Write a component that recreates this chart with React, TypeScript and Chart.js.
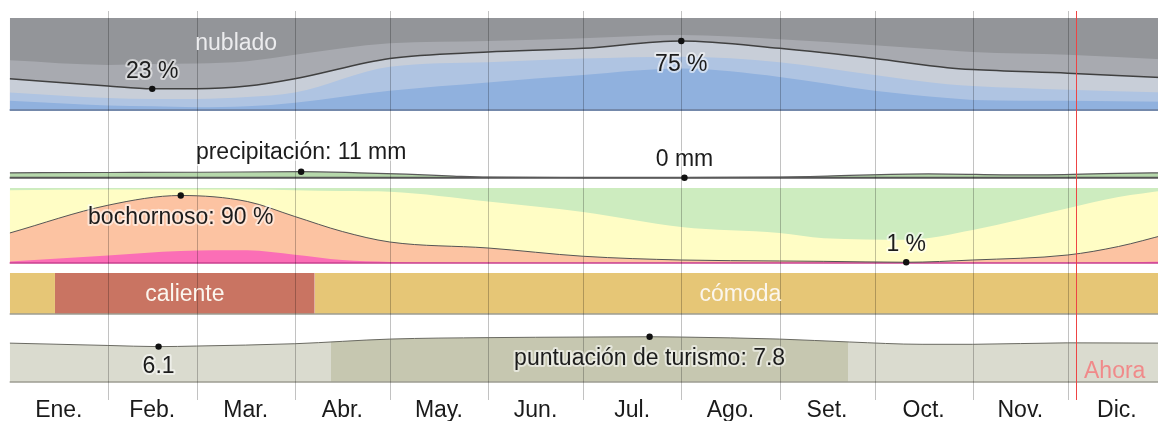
import React, { useEffect, useRef } from 'react';
import { Chart, registerables } from 'chart.js';

Chart.register(...registerables);

// ---------- DATA ----------
const monthNames = ['Ene.', 'Feb.', 'Mar.', 'Abr.', 'May.', 'Jun.', 'Jul.', 'Ago.', 'Set.', 'Oct.', 'Nov.', 'Dic.'];
const monthStarts = [0, 31, 59, 90, 120, 151, 181, 212, 243, 273, 304, 334, 365];

// cloud cover, cumulative % from the bottom (clear -> overcast)
const cloudDays = [0, 31, 45, 59, 75, 90, 120, 151, 181, 212, 243, 273, 296, 304, 334, 365];
const cloudClear = [10, 5, 4, 3, 4, 8, 21, 30, 38, 45, 36, 21, 13, 11, 10, 9];
const cloudMostlyClearOrBetter = [19, 13, 12, 12, 14, 19, 47, 52, 56, 58, 52, 38, 28, 26, 22, 19];
const cloudPartlyCloudyOrBetter = [34, 26, 23, 23, 26, 34, 56, 63, 67, 75, 67, 56, 46, 44, 40, 35];
const cloudMostlyCloudyOrBetter = [54, 49, 50, 50.5, 53, 60, 72.5, 75, 78, 81.5, 77, 70.5, 65, 63, 60, 55];
const cloudTotalDays = [0, 365];
const cloudTotal = [100, 100];
const cloudMarkDays = [45, 212];
const cloudMarkValues = [23, 75];

// precipitation (mm)
const precipDays = [0, 31, 60, 92, 110, 125, 140, 151, 181, 213, 243, 258, 290, 320, 350, 365];
const precipMm = [9, 9.5, 10, 11, 9, 6.5, 3, 1, 0.3, 0, 1, 3, 7, 5, 8, 9];
const precipMarkDays = [92, 213];
const precipMarkValues = [11, 0];

// humidity comfort, cumulative % from the bottom
const humDays = [0, 31, 54, 75, 90, 105, 120, 151, 181, 212, 243, 257, 283, 304, 334, 350, 365];
const humOppressive = [2, 10, 16, 17, 11, 4, 1.5, 0.5, 0.3, 0.3, 0.3, 0.3, 0.3, 0.3, 0.5, 1, 2];
const humMuggyOrWorse = [40, 77, 90, 82, 62, 42, 28, 20, 9, 4, 2.7, 2.2, 1, 4, 10.7, 22, 38];
const humHumidOrWorse = [97, 98, 98, 98, 97, 96, 95, 82, 68, 48, 40, 33, 31, 44, 73, 88, 97];
const humTotalDays = [0, 365];
const humTotal = [100, 100];
const humMarkDays = [54, 283];
const humMarkValues = [90, 1];

// temperature comfort periods
const comfortFrom = [0, 14.3, 96.3];
const comfortTo = [14.3, 96.3, 365];
const comfortCategory = ['cómoda', 'caliente', 'cómoda'];

// tourism score
const tourDays = [0, 31, 47, 59, 90, 120, 151, 181, 202, 212, 243, 265, 288, 304, 334, 365];
const tourScore = [6.7, 6.3, 6.1, 6.2, 6.6, 7.4, 7.65, 7.75, 7.8, 7.75, 7.4, 6.9, 6.5, 6.5, 6.75, 6.7];
const tourBestFrom = 101.3;
const tourBestTo = 264.6;
const tourMarkDays = [47, 202];
const tourMarkValues = [6.1, 7.8];

const todayDay = 336.5;

// ---------- STYLE / LAYOUT ----------
const CANVAS_W = 1170;
const CANVAS_H = 421;
const PLOT_LEFT = 9.68;
const PLOT_RIGHT = 1167.3;
const PLOT_TOP = 11;
const PLOT_BOTTOM = 400;
const FONT = '23px "Liberation Sans", Arial, sans-serif';

const C: Record<string, string> = {
  clear: '#90b1de',
  mostlyClear: '#afc4e2',
  partly: '#c8ced8',
  mostlyCloudy: '#a8aab0',
  overcast: '#939599',
  precip: '#b6d8ab',
  oppressive: '#fb6eb6',
  muggy: '#fcc3a2',
  humid: '#fffdc5',
  comfortable: '#cdecbf',
  'cómoda': '#e6c676',
  caliente: '#c97462',
  tourLight: '#dadbcf',
  tourDark: '#c6c7b0',
};

function bandAxis(vBottom: number, pBottom: number, vTop: number, pTop: number) {
  const s = (vTop - vBottom) / (pBottom - pTop);
  return {
    type: 'linear' as const,
    display: false,
    min: vBottom - (PLOT_BOTTOM - pBottom) * s,
    max: vBottom + (pBottom - PLOT_TOP) * s,
  };
}

const pts = (days: number[], vals: number[]) => days.map((d, i) => ({ x: d, y: vals[i] }));

function area(days: number[], vals: number[], yAxisID: string, color: any, extra: any = {}) {
  return {
    data: pts(days, vals),
    yAxisID,
    backgroundColor: color,
    borderColor: 'rgba(0,0,0,0)',
    borderWidth: 0,
    pointRadius: 0,
    fill: { value: 0 },
    cubicInterpolationMode: 'monotone',
    ...extra,
  };
}

function marker(day: number, value: number, yAxisID: string) {
  return {
    data: [{ x: day, y: value }],
    yAxisID,
    showLine: false,
    pointRadius: 3.2,
    pointBackgroundColor: '#111',
    pointBorderWidth: 0,
    fill: false,
  };
}

function drawLabel(ctx: CanvasRenderingContext2D, text: string, x: number, y: number, color: string, halo?: string, align: CanvasTextAlign = 'center') {
  ctx.save();
  ctx.font = FONT;
  ctx.textAlign = align;
  ctx.textBaseline = 'alphabetic';
  if (halo) {
    ctx.strokeStyle = halo;
    ctx.lineWidth = 4;
    ctx.lineJoin = 'round';
    ctx.strokeText(text, x, y);
  }
  ctx.fillStyle = color;
  ctx.fillText(text, x, y);
  ctx.restore();
}

function hLine(ctx: CanvasRenderingContext2D, x0: number, x1: number, y: number, color: string, w: number) {
  ctx.save();
  ctx.strokeStyle = color;
  ctx.lineWidth = w;
  ctx.beginPath();
  ctx.moveTo(x0, y);
  ctx.lineTo(x1, y);
  ctx.stroke();
  ctx.restore();
}

const decor = {
  id: 'decor',
  beforeDatasetsDraw(chart: any) {
    const { ctx, chartArea, scales } = chart;
    const L = chartArea.left, R = chartArea.right;
    hLine(ctx, L, R, scales.yCloud.getPixelForValue(0), '#7489ab', 2);
    hLine(ctx, L, R, scales.yPrecip.getPixelForValue(0), '#555555', 2);
    hLine(ctx, L, R, scales.yHum.getPixelForValue(0), '#c9408f', 1.5);
    hLine(ctx, L, R, scales.yComfort.getPixelForValue(0), '#9c9c92', 1.5);
    hLine(ctx, L, R, scales.yTour.getPixelForValue(0), '#9c9c92', 1.5);
    ctx.save();
    ctx.strokeStyle = 'rgba(0,0,0,0.24)';
    ctx.lineWidth = 1;
    for (let i = 1; i < monthStarts.length - 1; i++) {
      const x = Math.round(scales.x.getPixelForValue(monthStarts[i])) + 0.5;
      ctx.beginPath();
      ctx.moveTo(x, chartArea.top);
      ctx.lineTo(x, chartArea.bottom);
      ctx.stroke();
    }
    ctx.restore();
  },
  afterDatasetsDraw(chart: any) {
    const { ctx, chartArea, scales } = chart;
    const X = (d: number) => scales.x.getPixelForValue(d);
    const dark = '#1c1c1c';
    const halo = 'rgba(255,255,255,0.55)';

    const xr = Math.round(X(todayDay)) + 0.5;
    ctx.save();
    ctx.strokeStyle = '#ee4444';
    ctx.lineWidth = 1;
    ctx.beginPath();
    ctx.moveTo(xr, chartArea.top);
    ctx.lineTo(xr, chartArea.bottom);
    ctx.stroke();
    ctx.restore();

    drawLabel(ctx, 'nublado', X(71.5), scales.yCloud.getPixelForValue(100) + 32, '#ececee');
    drawLabel(ctx, `${cloudMarkValues[0]} %`, X(cloudMarkDays[0]), scales.yCloud.getPixelForValue(cloudMarkValues[0]) - 11, dark, halo);
    drawLabel(ctx, `${cloudMarkValues[1]} %`, X(cloudMarkDays[1]), scales.yCloud.getPixelForValue(cloudMarkValues[1]) + 30, dark, halo);

    drawLabel(ctx, `precipitación: ${precipMarkValues[0]} mm`, X(precipMarkDays[0]), scales.yPrecip.getPixelForValue(precipMarkValues[0]) - 13, dark, halo);
    drawLabel(ctx, `${precipMarkValues[1]} mm`, X(precipMarkDays[1]), scales.yPrecip.getPixelForValue(precipMarkValues[1]) - 12, dark, halo);

    drawLabel(ctx, `bochornoso: ${humMarkValues[0]} %`, X(humMarkDays[0]), scales.yHum.getPixelForValue(humMarkValues[0]) + 28.6, dark, halo);
    drawLabel(ctx, `${humMarkValues[1]} %`, X(humMarkDays[1]), scales.yHum.getPixelForValue(humMarkValues[1]) - 11.7, dark, halo);

    const yc = (scales.yComfort.getPixelForValue(0) + scales.yComfort.getPixelForValue(1)) / 2 + 7;
    for (let i = 0; i < comfortCategory.length; i++) {
      const w = X(comfortTo[i]) - X(comfortFrom[i]);
      if (w < 120) continue;
      drawLabel(ctx, comfortCategory[i], (X(comfortFrom[i]) + X(comfortTo[i])) / 2, yc, '#fbf6ee');
    }

    drawLabel(ctx, `${tourMarkValues[0]}`, X(tourMarkDays[0]), scales.yTour.getPixelForValue(tourMarkValues[0]) + 26, dark, halo);
    drawLabel(ctx, `puntuación de turismo: ${tourMarkValues[1]}`, X(tourMarkDays[1]), scales.yTour.getPixelForValue(tourMarkValues[1]) + 28.6, dark, halo);

    drawLabel(ctx, 'Ahora', xr + 7.5, scales.yTour.getPixelForValue(0) - 4, '#f08a8a', undefined, 'left');

    for (let i = 0; i < monthNames.length; i++) {
      const xm = X((monthStarts[i] + monthStarts[i + 1]) / 2);
      drawLabel(ctx, monthNames[i], xm, chartArea.bottom + 16.7, '#1a1a1a');
    }
  },
};

export default function App() {
  const ref = useRef<HTMLCanvasElement>(null);

  useEffect(() => {
    const canvas = ref.current;
    if (!canvas) return;

    const tourFill = (c: any) => {
      const chart = c.chart;
      const xs = chart.scales && chart.scales.x;
      if (!xs || !chart.chartArea) return C.tourLight;
      const x0 = xs.getPixelForValue(0);
      const x1 = xs.getPixelForValue(365);
      if (!isFinite(x0) || !isFinite(x1) || x1 <= x0) return C.tourLight;
      const g = chart.ctx.createLinearGradient(x0, 0, x1, 0);
      const a = tourBestFrom / 365;
      const b = tourBestTo / 365;
      g.addColorStop(0, C.tourLight);
      g.addColorStop(a, C.tourLight);
      g.addColorStop(a, C.tourDark);
      g.addColorStop(b, C.tourDark);
      g.addColorStop(b, C.tourLight);
      g.addColorStop(1, C.tourLight);
      return g;
    };

    const datasets: any[] = [
      ...cloudMarkDays.map((d, i) => marker(d, cloudMarkValues[i], 'yCloud')),
      ...precipMarkDays.map((d, i) => marker(d, precipMarkValues[i], 'yPrecip')),
      ...humMarkDays.map((d, i) => marker(d, humMarkValues[i], 'yHum')),
      ...tourMarkDays.map((d, i) => marker(d, tourMarkValues[i], 'yTour')),
      area(cloudDays, cloudClear, 'yCloud', C.clear),
      area(cloudDays, cloudMostlyClearOrBetter, 'yCloud', C.mostlyClear),
      area(cloudDays, cloudPartlyCloudyOrBetter, 'yCloud', C.partly, { borderColor: '#404040', borderWidth: 1.5 }),
      area(cloudDays, cloudMostlyCloudyOrBetter, 'yCloud', C.mostlyCloudy),
      area(cloudTotalDays, cloudTotal, 'yCloud', C.overcast),
      area(precipDays, precipMm, 'yPrecip', C.precip, { borderColor: '#5a5a5a', borderWidth: 1.2 }),
      area(humDays, humOppressive, 'yHum', C.oppressive),
      area(humDays, humMuggyOrWorse, 'yHum', C.muggy, { borderColor: '#555555', borderWidth: 1 }),
      area(humDays, humHumidOrWorse, 'yHum', C.humid),
      area(humTotalDays, humTotal, 'yHum', C.comfortable),
      ...comfortCategory.map((cat, i) =>
        area([comfortFrom[i], comfortTo[i]], [1, 1], 'yComfort', C[cat], { cubicInterpolationMode: 'default', tension: 0 })
      ),
      area(tourDays, tourScore, 'yTour', tourFill, { borderColor: '#6a6a62', borderWidth: 1 }),
    ];

    const chart = new Chart(canvas, {
      type: 'line',
      data: { datasets },
      options: {
        animation: false,
        responsive: false,
        devicePixelRatio: 1,
        events: [],
        layout: {
          padding: {
            left: PLOT_LEFT,
            right: CANVAS_W - PLOT_RIGHT,
            top: PLOT_TOP,
            bottom: CANVAS_H - PLOT_BOTTOM,
          },
        },
        plugins: {
          legend: { display: false },
          tooltip: { enabled: false },
          filler: { drawTime: 'beforeDatasetsDraw' },
        } as any,
        scales: {
          x: { type: 'linear', display: false, min: 0, max: 365 },
          yCloud: bandAxis(0, 110, 100, 18),
          yPrecip: bandAxis(0, 177.7, 11, 171.7),
          yHum: bandAxis(0, 263, 100, 188),
          yComfort: bandAxis(0, 314, 1, 273),
          yTour: bandAxis(0, 382, 10, 324),
        } as any,
      },
      plugins: [decor],
    } as any);

    return () => chart.destroy();
  }, []);

  return (
    <div style={{ position: 'fixed', left: 0, top: 0, width: 1158, height: 421, overflow: 'hidden', background: '#fff' }}>
      <canvas ref={ref} width={CANVAS_W} height={CANVAS_H} style={{ display: 'block', width: CANVAS_W, height: CANVAS_H }} />
    </div>
  );
}
